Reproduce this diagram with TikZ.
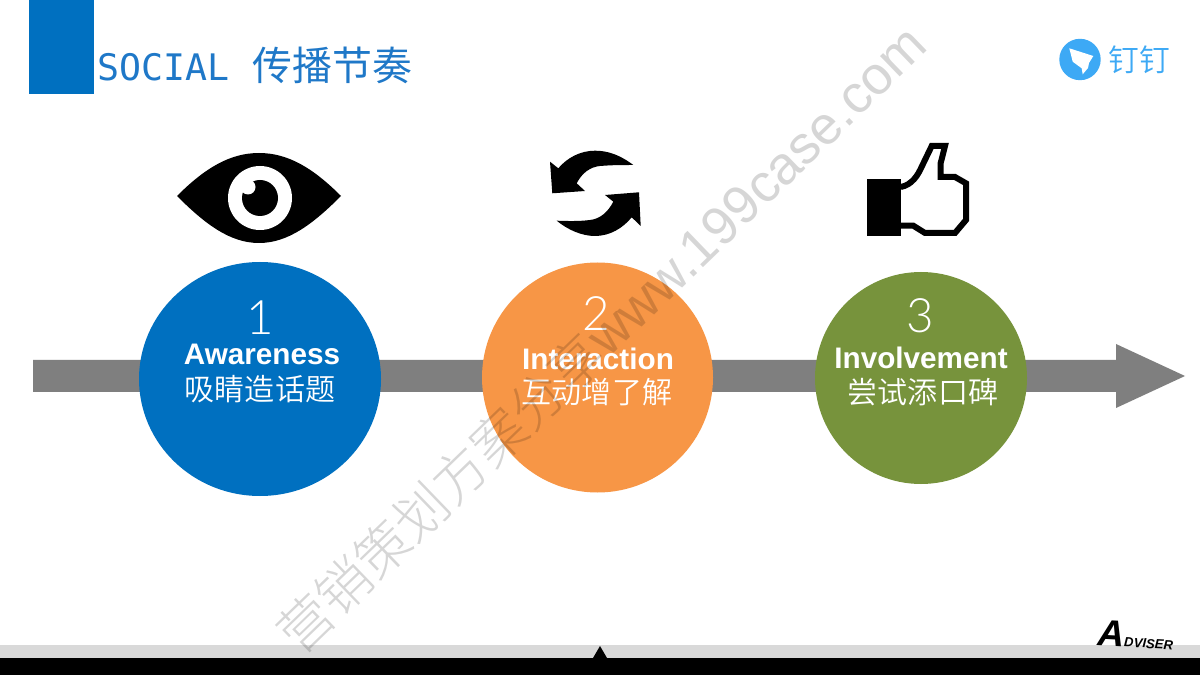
\documentclass[tikz,border=0pt]{standalone}
\usepackage{fontspec}
\setmainfont{Liberation Sans}
\newfontfamily\cjk{Noto Sans CJK SC}
\newfontfamily\cjklight{Noto Sans CJK SC Light}
\newfontfamily\cjkdemi{Noto Sans CJK SC DemiLight}
\newfontfamily\thindigit{Lato Light}
\newfontfamily\monofont{DejaVu Sans Mono}
\usetikzlibrary{positioning}
\usetikzlibrary{shapes.geometric}
\definecolor{bluefill}{HTML}{0070C0}
\definecolor{orangefill}{HTML}{F79646}
\definecolor{greenfill}{HTML}{77933C}
\definecolor{arrowgray}{HTML}{7F7F7F}
\definecolor{titleblue}{HTML}{1F78C8}
\definecolor{logoblue}{HTML}{3DA9F5}
\tikzstyle{stage}=[ellipse,draw=none,inner sep=0pt]
\tikzstyle{number}=[font=\fontsize{27}{27}\selectfont\thindigit,text=white,inner sep=0pt]
\tikzstyle{nameen}=[font=\fontsize{16.9}{17}\selectfont\bfseries,text=white,inner sep=0pt]
\tikzstyle{namecn}=[font=\fontsize{17.1}{17}\selectfont\cjkdemi,text=white,inner sep=0pt]
\tikzstyle{icon}=[fill=black,draw=none]
\begin{document}
\begin{tikzpicture}[x=0.02cm,y=-0.02cm]
    \useasboundingbox[fill=white] (0,0) rectangle (1200,675);
    % header
    \fill[bluefill] (29,0) rectangle (94,94);
    \node[anchor=west,inner sep=0pt,text=titleblue,font=\fontsize{20.8}{21}\selectfont\monofont] (title) at (97,67) {SOCIAL};
    \node[anchor=west,inner sep=0pt,text=titleblue,font=\fontsize{22.7}{23}\selectfont\cjk] (titlecn) at (252,65) {传播节奏};
    % logo
    \node[circle,fill=logoblue,minimum size=41.4*0.02cm,inner sep=0pt] (logo) at (1080,59.5) {};
    \fill[white] (1069.3,48.3) -- (1093.3,56) -- (1089,63) -- (1088,68) -- (1082.7,74.3) -- (1081.7,68.3) -- (1072.7,61.7) -- cycle;
    \node[anchor=west,inner sep=0pt,text=logoblue,font=\fontsize{17.5}{18}\selectfont\cjkdemi] (logotext) at (1108,60) {钉钉};
    % main arrow
    \fill[arrowgray] (33,360) -- (1116,360) -- (1116,344) -- (1185,376) -- (1116,408) -- (1116,392) -- (33,392) -- cycle;
    % stages
    \foreach \pos/\name/\wd/\ht/\col in {{(260,379)/aware/242/234/bluefill}, {(597.5,377.5)/inter/231/230/orangefill}, {(921,378)/invol/212/212/greenfill}}
        \node[stage,fill=\col,minimum width=\wd*0.02cm,minimum height=\ht*0.02cm] (\name) at \pos {};
    \foreach \pos/\name/\label in {{(260,318)/numa/1}, {(596,314)/numb/2}, {(920,316)/numc/3}}
        \node[number] (\name) at \pos {\label};
    \foreach \pos/\name/\label in {{(262,354)/ena/Awareness}, {(598,359)/enb/Interaction}, {(921,358)/enc/Involvement}}
        \node[nameen] (\name) at \pos {\label};
    \foreach \pos/\name/\label in {{(260,389)/cna/吸睛造话题}, {(597,392)/cnb/互动增了解}, {(923,392)/cnc/尝试添口碑}}
        \node[namecn] (\name) at \pos {\label};
    % eye
    \fill[black] (177,196) .. controls (205,168) and (230,153) .. (259,153) .. controls (288,153) and (313,168) .. (341,196) .. controls (313,224) and (288,243) .. (259,243) .. controls (230,243) and (205,224) .. (177,196) -- cycle;
    \fill[white] (260,198) circle (32);
    \fill[black] (260,198) circle (18);
    \fill[white] (248,187) circle (7.5);
    % sync
    \fill[icon] (633.3,165) .. controls (620,155) and (608,150.7) .. (595,150.7) .. controls (580,150.7) and (567,158) .. (558.3,168.3) -- (550,161.7) -- (552.3,193.3) -- (585,191) -- (576.7,183.3) .. controls (582,173) and (590,167) .. (600,166) .. controls (612,165) and (622,165) .. (633.3,165) -- cycle;
    \fill[icon] (556.7,220.7) .. controls (568,230) and (582,236) .. (595,236) .. controls (610,236) and (623,228) .. (631.7,217.3) -- (640.7,226) -- (639,192.3) -- (605,195) -- (613.3,201.7) .. controls (608,212) and (600,219) .. (590,220) .. controls (578,221.5) and (567,221) .. (556.7,220.7) -- cycle;
    % thumb
    \fill[icon] (867.3,179) rectangle (900.7,235.7);
    \draw[black,line width=0.12cm,line join=miter] (900.7,187) .. controls (912,185) and (918,175) .. (921.7,166.7) -- (931.7,146) -- (945,146) -- (940.7,163) -- (940.7,177) -- (955,177) -- (966,183.3) -- (966,220) -- (955,233) -- (925,233) -- (913.3,225.7) -- (900.7,225.7);
    % bottom bar
    \fill[black!15] (0,645) rectangle (1200,658);
    \fill[black] (0,658) rectangle (1200,675);
    \fill[black] (593,658) -- (600,646) -- (607,658) -- cycle;
    \node[anchor=south west,inner sep=0pt,rotate=-3,font=\fontsize{7.5}{8}\selectfont\bfseries\itshape] (adviser) at (1097,646) {{\fontsize{21}{21}\selectfont A}DVISER};
    % watermark
    \node[rotate=44,inner sep=0pt,text=black,text opacity=0.16,font=\fontsize{30.5}{31}\selectfont] (mark) at (601,338) {{\cjklight 营销策划方案分享}www.199case.com};
\end{tikzpicture}
\end{document}
